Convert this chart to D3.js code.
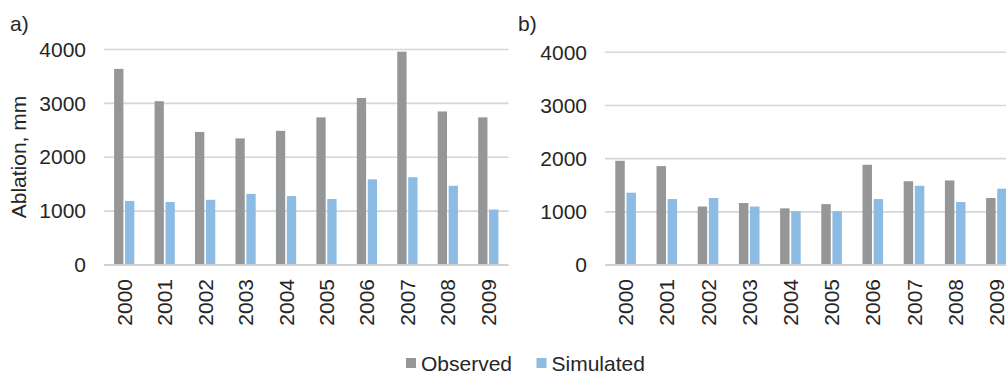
<!DOCTYPE html>
<html>
<head>
<meta charset="utf-8">
<script src="https://cdn.jsdelivr.net/npm/d3@7"></script>
<style>
  html, body { margin: 0; padding: 0; background: #fff; }
  svg { display: block; font-family: "Liberation Sans", Arial, sans-serif; }
</style>
</head>
<body>
<svg id="chart" width="1006" height="374"></svg>
<script>
// Ablation per year, two sites, observed vs simulated (mm)
const years = ["2000","2001","2002","2003","2004","2005","2006","2007","2008","2009"];
const seriesNames = ["Observed", "Simulated"];
const observedA  = [3640, 3040, 2470, 2350, 2490, 2740, 3100, 3960, 2850, 2740];
const simulatedA = [1190, 1170, 1210, 1320, 1280, 1225, 1590, 1630, 1470, 1030];
const observedB  = [1960, 1860, 1100, 1165, 1065, 1145, 1885, 1575, 1590, 1260];
const simulatedB = [1360, 1240, 1260, 1100, 1010, 1010, 1240, 1490, 1185, 1435];
const yTicks = [0, 1000, 2000, 3000, 4000];
const colors = { Observed: "#959697", Simulated: "#8cbbe3" };

const svg = d3.select("#chart");
const textColor = "#262626";
const fontSize = 21;

function panel(opts) {
  const { x0, x1, yTop, yBottom, obs, sim, tag, tagX } = opts;
  const g = svg.append("g");

  const y = d3.scaleLinear().domain([0, 4000]).range([yBottom, yTop]);
  const xBand = d3.scaleBand().domain(years).range([x0, x1])
    .paddingInner(0.5).paddingOuter(0.25);
  const xSub = d3.scaleBand().domain(seriesNames)
    .range([0, xBand.bandwidth()]).paddingInner(0.15);

  // horizontal gridlines
  g.append("g").selectAll("line").data(yTicks).join("line")
    .attr("x1", x0).attr("x2", Math.min(x1, 1006))
    .attr("y1", d => y(d)).attr("y2", d => y(d))
    .attr("stroke", "#d6d6d6").attr("stroke-width", 1.6);

  // y axis labels
  const yAxis = d3.axisLeft(y).tickValues(yTicks).tickSize(0).tickPadding(18)
    .tickFormat(d3.format("d"));
  const ya = g.append("g").attr("transform", `translate(${x0},0)`).call(yAxis);
  ya.select(".domain").remove();
  ya.selectAll("text").attr("font-size", fontSize).attr("fill", textColor)
    .attr("font-family", "'Liberation Sans', Arial, sans-serif");

  // bars
  const rows = years.map((yr, i) => ({ yr, values: [
    { key: "Observed", v: obs[i] }, { key: "Simulated", v: sim[i] }] }));
  const grp = g.append("g").selectAll("g").data(rows).join("g")
    .attr("transform", d => `translate(${xBand(d.yr)},0)`);
  grp.selectAll("rect").data(d => d.values).join("rect")
    .attr("x", d => xSub(d.key))
    .attr("width", xSub.bandwidth())
    .attr("y", d => y(d.v))
    .attr("height", d => y(0) - y(d.v))
    .attr("fill", d => colors[d.key]);

  // baseline redrawn over bars
  g.append("line").attr("x1", x0).attr("x2", Math.min(x1, 1006))
    .attr("y1", y(0)).attr("y2", y(0))
    .attr("stroke", "#d2d2d2").attr("stroke-width", 1.8);

  // x axis labels, rotated
  const xAxis = d3.axisBottom(xBand).tickSize(0).tickPadding(0);
  const xa = g.append("g").attr("transform", `translate(0,${yBottom})`).call(xAxis);
  xa.select(".domain").remove();
  xa.selectAll("text")
    .attr("font-size", fontSize).attr("fill", textColor)
    .attr("font-family", "'Liberation Sans', Arial, sans-serif")
    .attr("transform", "rotate(-90)")
    .attr("text-anchor", "end")
    .attr("x", -14).attr("y", 0).attr("dy", "0.36em");

  // panel tag
  g.append("text").attr("x", tagX).attr("y", 31)
    .attr("font-size", fontSize).attr("fill", textColor).text(tag);

  return y;
}

panel({ x0: 104, x1: 508.5, yTop: 49.5, yBottom: 265,
  obs: observedA, sim: simulatedA, tag: "a)", tagX: 10 });
panel({ x0: 605, x1: 1017, yTop: 52.3, yBottom: 265,
  obs: observedB, sim: simulatedB, tag: "b)", tagX: 518 });

// y axis title
svg.append("text")
  .attr("transform", "translate(26,157) rotate(-90)")
  .attr("text-anchor", "middle")
  .attr("font-size", fontSize).attr("fill", textColor)
  .text("Ablation, mm");

// legend
const legendItems = [
  { name: "Observed", sx: 406, tx: 421 },
  { name: "Simulated", sx: 536.5, tx: 551.5 }
];
const lg = svg.append("g");
lg.selectAll("rect").data(legendItems).join("rect")
  .attr("x", d => d.sx).attr("y", 358).attr("width", 10).attr("height", 10)
  .attr("fill", d => colors[d.name]);
lg.selectAll("text").data(legendItems).join("text")
  .attr("x", d => d.tx).attr("y", 370.5)
  .attr("font-size", fontSize).attr("fill", textColor)
  .text(d => d.name);
</script>
</body>
</html>
